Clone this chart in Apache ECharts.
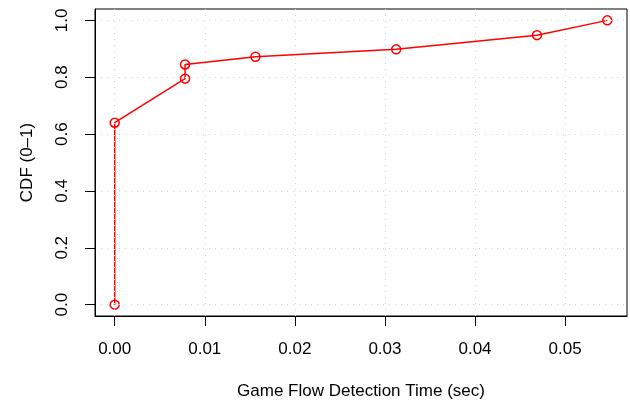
<!DOCTYPE html>
<html>
<head>
<meta charset="utf-8">
<script src="https://cdn.jsdelivr.net/npm/echarts@6/dist/echarts.min.js"></script>
<style>
  html, body { margin: 0; padding: 0; background: #fff; }
  #chart { width: 630px; height: 401px; }
</style>
</head>
<body>
<div id="chart"></div>
<script>
// Detection time (seconds) and cumulative fraction
const detectTime = [0, 0, 0.0078125, 0.0078125, 0.015625, 0.03125, 0.046875, 0.0546875];
const cdfValues  = [0, 0.64, 0.795, 0.845, 0.872, 0.898, 0.948, 1.0];

// Tick positions
const xTicks = [0, 0.01, 0.02, 0.03, 0.04, 0.05];
const yTicks = [0, 0.2, 0.4, 0.6, 0.8, 1.0];

const xMin = -0.0021875, xMax = 0.056875;
const yMin = -0.04, yMax = 1.04;

const FONT = 'Liberation Sans, Arial, sans-serif';

const chart = echarts.init(document.getElementById('chart'), null, { renderer: 'canvas' });

chart.setOption({
  animation: false,
  backgroundColor: '#ffffff',
  grid: {
    left: 95, top: 9, right: 3, bottom: 85,
    outerBoundsMode: 'none',
    show: true, borderColor: '#000', borderWidth: 1, backgroundColor: 'transparent'
  },
  xAxis: {
    type: 'value',
    min: xMin, max: xMax,
    z: 5, // dotted grid drawn over the curve
    name: 'Game Flow Detection Time (sec)',
    nameLocation: 'middle',
    nameGap: 67,
    nameTextStyle: { fontFamily: FONT, fontSize: 17, color: '#000' },
    axisLine: { show: true, onZero: false, lineStyle: { color: '#000', width: 1 } },
    axisTick: { show: true, inside: false, length: 10, customValues: xTicks,
                lineStyle: { color: '#000', width: 1 } },
    axisLabel: { show: true, customValues: xTicks, margin: 25,
                 fontFamily: FONT, fontSize: 17, color: '#000',
                 formatter: v => v.toFixed(2) },
    splitLine: { show: true, lineStyle: { color: '#d3d3d3', type: [1, 5], width: 1 } }
  },
  yAxis: {
    type: 'value',
    min: yMin, max: yMax,
    z: 5,
    name: 'CDF (0\u20131)',
    nameLocation: 'middle',
    nameGap: 59,
    nameRotate: 90,
    nameTextStyle: { fontFamily: FONT, fontSize: 17, color: '#000' },
    axisLine: { show: true, onZero: false, lineStyle: { color: '#000', width: 1 } },
    axisTick: { show: true, inside: false, length: 10, customValues: yTicks,
                lineStyle: { color: '#000', width: 1 } },
    axisLabel: { show: true, customValues: yTicks, margin: 24, rotate: 90,
                 fontFamily: FONT, fontSize: 17, color: '#000',
                 formatter: v => v.toFixed(1) },
    splitLine: { show: true, lineStyle: { color: '#d3d3d3', type: [1, 5], width: 1 } }
  },
  series: [{
    type: 'line',
    data: detectTime.map((x, i) => [x, cdfValues[i]]),
    symbol: 'circle',
    symbolSize: 9,
    lineStyle: { color: '#ff0000', width: 1.5 },
    // open circles: no fill, red outline
    itemStyle: { color: 'rgba(0,0,0,0)', borderColor: '#ff0000', borderWidth: 1.5 },
    z: 2
  }]
});
</script>
</body>
</html>
